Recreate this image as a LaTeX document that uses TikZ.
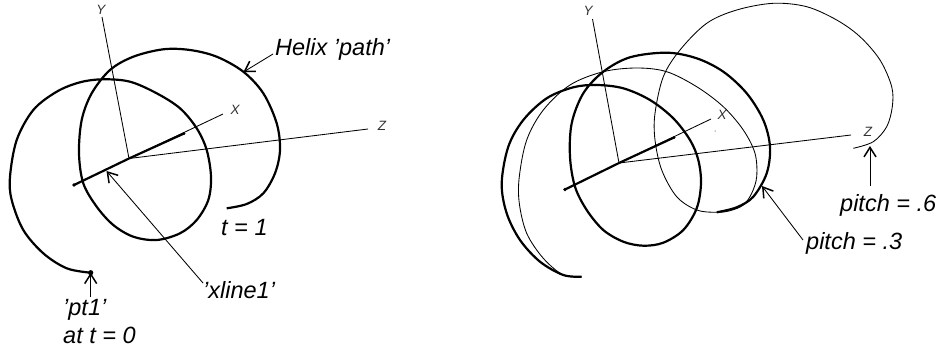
\documentclass[tikz,border=0pt]{standalone}
\usepackage{fontspec}
\setmainfont{Liberation Sans}
\usetikzlibrary{arrows.meta}
\tikzset{
 x=1pt,y=-1pt,
 lbl/.style={font=\fontsize{23.5}{26}\selectfont\itshape,inner sep=0pt,anchor=base west},
 ax/.style={font=\fontsize{13.5}{15}\selectfont\itshape,inner sep=0pt,text=black!80},
 thin line/.style={line width=.85pt,black},
 thick line/.style={line width=2.2pt,black,line join=round},
 helix/.style={line width=2.2pt,smooth,tension=.55,line join=round},
 lead/.style={line width=.85pt,-{Straight Barb[length=9.5pt,width=12pt,line width=1.5pt]}},
}
\begin{document}
\begin{tikzpicture}
\useasboundingbox (0,0) rectangle (943,351);
% ---- left
\coordinate (LO) at (129,158.5);
\coordinate (LYe) at (102,17);
\coordinate (LXe) at (223,114);
\coordinate (LZe) at (368,129);
\coordinate (LXa) at (74,185);
\coordinate (LXb) at (184,133.5);
\node[ax] (LY) at (101,10) {Y};
\node[ax] (LX) at (235,110) {X};
\draw[thin line] (LO)--(LYe) (LO)--(LXe) (LO)--(LZe);
\node[ax] (LZ) at (382,126) {Z};
\draw[thick line,line cap=round] (LXa)--(LO)--(LXb);
\fill (LXa) circle (1.8pt) (LXb) circle (1.5pt);
\coordinate (pt1) at (90.7,272.7);
\fill (pt1) circle (2.6pt);
\draw[helix] plot coordinates {(90.7,272.7)(66.7,268.3)(43.3,253.3)(23.3,230)(11.7,200)(10,176.7)(16.7,140)(33.3,110)(56.7,91.7)(80,82.3)(103.3,79.3)(130,81.7)(156.7,93.3)(180,108.3)(196.7,128.3)(206.7,150)(211,176.7)(208.3,200)(196.7,220)(180,233.3)(156.7,240)(133.3,236.7)(113.3,225)(96.7,206.7)(83.3,183.3)(79,153.3)(81.7,120)(91.7,93.3)(110,70)(133.3,56.7)(163.3,49.3)(190,50)(216.7,56.7)(243.3,71.7)(263.3,93.3)(276.7,123.3)(280,150)(275,173.3)(263.3,193.3)(246.7,204)(226.7,208.3)};
\node[lbl] (helixl) at (275,55) {Helix 'path'};
\coordinate (hls) at (273,54);
\coordinate (hl) at (243.5,72);
\draw[lead] (hls) -- (hl);
\node[lbl] (t1) at (221,235) {t = 1};
\node[lbl] (xl) at (203,298) {'xline1'};
\coordinate (xs) at (203,283);
\coordinate (xa) at (106.5,171);
\draw[lead] (xs) -- (xa);
\node[lbl] (ptl) at (63,315) {'pt1'};
\node[lbl] (atl) at (63,343) {at t = 0};
\coordinate (pts) at (90.7,297);
\draw[lead] (pts) -- (pt1);
% ---- right
\coordinate (RO) at (619,163);
\coordinate (RYe) at (592.5,19);
\coordinate (RXe) at (711,119);
\coordinate (RZe) at (851,135);
\coordinate (RXa) at (565,189.5);
\coordinate (RXb) at (674,137.5);
\node[ax] (RY) at (588,11) {Y};
\node[ax] (RX) at (722,115) {X};
\draw[thin line] (RO)--(RYe) (RO)--(RXe) (RO)--(RZe);
\node[ax] (RZ) at (868,132) {Z};
\draw[thick line,line cap=round] (RXa)--(RO)--(RXb);
\fill (RXa) circle (1.8pt) (RXb) circle (1.5pt);
\fill (715,131) circle (.5pt);
\draw[helix] plot coordinates {(581.7,276.7)(563.3,275)(540,261.7)(520,240)(506.7,213.3)(501.7,183.3)(508.3,146.7)(523.3,120)(546.7,98.3)(573.3,87.3)(596.7,85)(623.3,88.3)(650,100)(673.3,118.3)(690,140)(698.3,160)(701,183.3)(696.7,208.3)(683.3,230)(663.3,242.7)(643.3,245.7)(623.3,241.7)(603.3,230)(586.7,210)(575,186.7)(570,156.7)(571.7,123.3)(583.3,93.3)(603.3,71.7)(630,57.3)(666.7,52.7)(696.7,58.3)(723.3,71.7)(746.7,93.3)(763.3,120)(770,146.7)(766.7,173.3)(753.3,196.7)(736.7,207.3)(716.7,212.3)};
\draw[thin line,smooth,tension=.55] plot coordinates {(581.7,276.7)(563.3,275)(543.3,258.3)(526.7,233.3)(519.3,203.3)(519.3,176.7)(526.7,140)(543.3,110)(570,85)(603.3,71.7)(636.7,68)(666.7,71.7)(696.7,86.7)(723.3,106.7)(743.3,130)(755,153.3)(756.7,176.7)(751.7,193.3)(743.3,205)(730,210.7)(716.7,212.3)(696.7,210)(676.7,196.7)(661.7,170)(655,140)(655,113.3)(663.3,76.7)(680,50)(706.7,23.3)(736.7,10)(773.3,3.3)(806.7,6.7)(836.7,20)(860,36.7)(880,60)(891.7,86.7)(892.3,106.7)(886.7,126.7)(873.3,141.7)(853.3,148.3)};
\node[lbl] (p6) at (840,211) {pitch = .6};
\coordinate (p6s) at (870,186);
\coordinate (p6a) at (870,146);
\draw[lead] (p6s) -- (p6a);
\node[lbl] (p3) at (806,249) {pitch = .3};
\coordinate (p3s) at (803,240);
\coordinate (p3a) at (762,186);
\draw[lead] (p3s) -- (p3a);
\end{tikzpicture}
\end{document}
